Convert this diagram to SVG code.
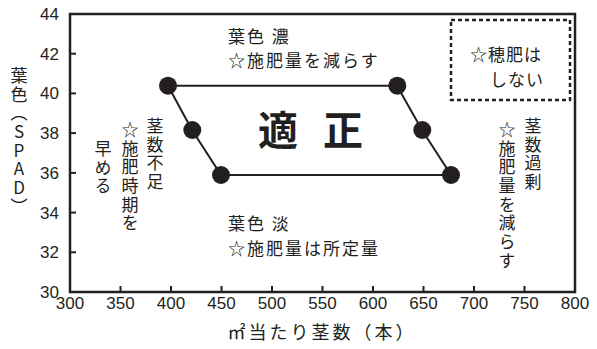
<svg xmlns="http://www.w3.org/2000/svg" width="597" height="349" viewBox="0 0 597 349">
<style>
.num{font-family:"Liberation Sans",Arial,sans-serif;font-size:17px;fill:#231f20}
.jp{font-family:"Noto Sans CJK JP","Noto Sans",sans-serif;font-size:17px;fill:#231f20;letter-spacing:2px}
.vt{font-family:"Noto Sans CJK JP","Noto Sans",sans-serif;font-size:17px;fill:#231f20;writing-mode:vertical-rl;letter-spacing:1.7px}
.big{font-family:"Noto Sans CJK JP",sans-serif;font-size:40px;font-weight:bold;fill:#231f20}
.ax{fill:none;stroke:#231f20;stroke-width:2.5}
.tk{stroke:#231f20;stroke-width:2}
.ln{stroke:#231f20;stroke-width:2;fill:none}
.pt{fill:#231f20}
</style>
<g id="axes">
<rect class="ax" x="70" y="14" width="505" height="278"/>
<g class="tk">
<line x1="70" y1="53.7" x2="76" y2="53.7"/>
<line x1="70" y1="93.4" x2="76" y2="93.4"/>
<line x1="70" y1="133.1" x2="76" y2="133.1"/>
<line x1="70" y1="172.9" x2="76" y2="172.9"/>
<line x1="70" y1="212.6" x2="76" y2="212.6"/>
<line x1="70" y1="252.3" x2="76" y2="252.3"/>
<line x1="120.5" y1="292" x2="120.5" y2="286"/>
<line x1="171" y1="292" x2="171" y2="286"/>
<line x1="221.5" y1="292" x2="221.5" y2="286"/>
<line x1="272" y1="292" x2="272" y2="286"/>
<line x1="322.5" y1="292" x2="322.5" y2="286"/>
<line x1="373" y1="292" x2="373" y2="286"/>
<line x1="423.5" y1="292" x2="423.5" y2="286"/>
<line x1="474" y1="292" x2="474" y2="286"/>
<line x1="524.5" y1="292" x2="524.5" y2="286"/>
</g>
<g class="num" text-anchor="end">
<text x="59" y="20">44</text>
<text x="59" y="59.7">42</text>
<text x="59" y="99.4">40</text>
<text x="59" y="139.1">38</text>
<text x="59" y="178.9">36</text>
<text x="59" y="218.6">34</text>
<text x="59" y="258.3">32</text>
<text x="59" y="298">30</text>
</g>
<g class="num" text-anchor="middle">
<text x="70" y="309">300</text>
<text x="120.5" y="309">350</text>
<text x="171" y="309">400</text>
<text x="221.5" y="309">450</text>
<text x="272" y="309">500</text>
<text x="322.5" y="309">550</text>
<text x="373" y="309">600</text>
<text x="423.5" y="309">650</text>
<text x="474" y="309">700</text>
<text x="524.5" y="309">750</text>
<text x="575" y="309">800</text>
</g>
<text class="jp" x="322" y="339" text-anchor="middle" style="font-size:18px;letter-spacing:3px">㎡当たり茎数（本）</text>
<text class="vt" x="19" y="67" style="text-orientation:upright">葉色（SPAD）</text>
</g>
<g id="connectors">
<polyline class="ln" points="168,85.7 397,85.7 422,130 451,175 221,175 192,130 168,85.7"/>
</g>
<g id="points">
<circle class="pt" cx="168" cy="85.7" r="9"/>
<circle class="pt" cx="192.3" cy="130" r="9"/>
<circle class="pt" cx="221" cy="175" r="9"/>
<circle class="pt" cx="397.3" cy="85.7" r="9"/>
<circle class="pt" cx="422.3" cy="130" r="9"/>
<circle class="pt" cx="451" cy="175" r="9"/>
</g>
<g id="label-optimal">
<text class="big" x="258 298 323" y="145">適 正</text>
</g>
<g id="label-dark">
<text class="jp" x="228" y="43">葉色 濃</text>
<text class="jp" x="228" y="67">☆施肥量を減らす</text>
</g>
<g id="label-light">
<text class="jp" x="228" y="230">葉色 淡</text>
<text class="jp" x="228" y="255">☆施肥量は所定量</text>
</g>
<g id="label-few">
<text class="vt" x="155" y="117">茎数不足</text>
<text class="vt" x="130" y="121">☆施肥時期を</text>
<text class="vt" x="103" y="140">早める</text>
</g>
<g id="label-many">
<text class="vt" x="533" y="117">茎数過剰</text>
<text class="vt" x="507" y="121">☆施肥量を減らす</text>
</g>
<g id="box-panicle">
<rect x="451" y="20" width="119" height="80" fill="none" stroke="#231f20" stroke-width="2.5" stroke-dasharray="4 3"/>
<text class="jp" x="470" y="61" style="letter-spacing:1px">☆穂肥は</text>
<text class="jp" x="490" y="86" style="letter-spacing:1px">しない</text>
</g>
</svg>
